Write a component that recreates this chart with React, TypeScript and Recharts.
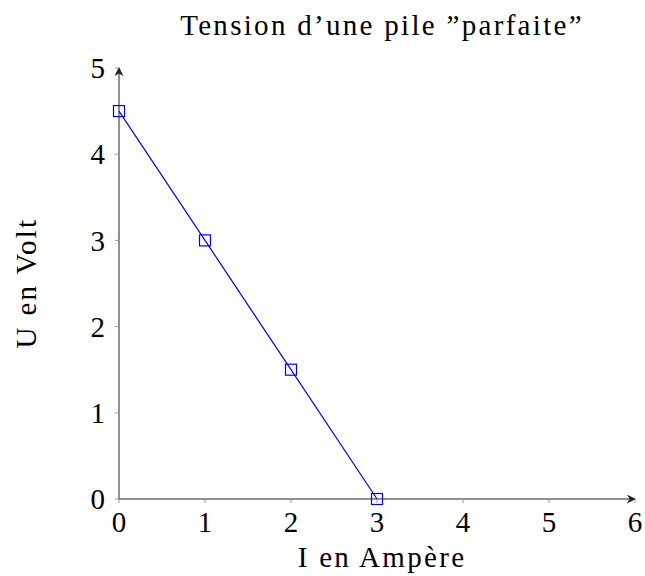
import { LineChart, Line, XAxis, YAxis, Customized } from 'recharts';

// Courant I (A) et tension U (V)
const courant = [0, 1, 2, 3];
const tension = [4.5, 3, 1.5, 0];
const xTicks = [0, 1, 2, 3, 4, 5, 6];
const yTicks = [0, 1, 2, 3, 4, 5];

const data = courant.map((i, k) => ({ i, u: tension[k] }));

const font = '"Liberation Serif", "DejaVu Serif", serif';
const txt = { fontSize: 29, fill: '#000', fontFamily: font, letterSpacing: 2.3 };

const SquareDot = (props: any) => {
  const { cx, cy } = props;
  if (cx == null || cy == null) return null;
  return (
    <rect
      x={cx - 5.5}
      y={cy - 5.5}
      width={11}
      height={11}
      fill="none"
      stroke="#0000ff"
      strokeWidth={1.2}
    />
  );
};

export default function App() {
  return (
    <div style={{ position: 'absolute', left: 0, top: 0, background: '#fff', fontFamily: font }}>
      <LineChart
        width={645}
        height={576}
        data={data}
        margin={{ top: 68, right: 10, left: 0, bottom: 0 }}
      >
        <Customized
          component={() => (
            <defs>
              <marker
                id="fleche"
                viewBox="0 0 10 10"
                refX="9"
                refY="5"
                markerWidth="9"
                markerHeight="9"
                markerUnits="userSpaceOnUse"
                orient="auto-start-reverse"
              >
                <path d="M0,0 L10,5 L0,10 L3,5 Z" fill="#222" />
              </marker>
            </defs>
          )}
        />
        <text x={382} y={35} textAnchor="middle" {...txt}>
          Tension d’une pile ”parfaite”
        </text>
        <text x={382} y={567} textAnchor="middle" {...txt}>
          I en Ampère
        </text>
        <text x={36} y={283} textAnchor="middle" transform="rotate(-90 36 283)" {...txt}>
          U en Volt
        </text>
        <XAxis
          type="number"
          dataKey="i"
          domain={[0, 6]}
          ticks={xTicks}
          height={77}
          axisLine={{ stroke: '#222', strokeWidth: 1, markerEnd: 'url(#fleche)' } as any}
          tickLine={{ stroke: '#999' }}
          tickSize={4}
          tickMargin={8}
          tick={{ fontSize: 29, fill: '#000', fontFamily: font }}
        />
        <YAxis
          type="number"
          dataKey="u"
          domain={[0, 5]}
          ticks={yTicks}
          width={119}
          axisLine={{ stroke: '#222', strokeWidth: 1, markerStart: 'url(#fleche)' } as any}
          tickLine={{ stroke: '#999' }}
          tickSize={4}
          tickMargin={10}
          tick={{ fontSize: 29, fill: '#000', fontFamily: font }}
        />
        <Line
          type="linear"
          dataKey="u"
          stroke="#0000ff"
          strokeWidth={1.2}
          dot={<SquareDot />}
          activeDot={false}
          isAnimationActive={false}
        />
      </LineChart>
    </div>
  );
}
